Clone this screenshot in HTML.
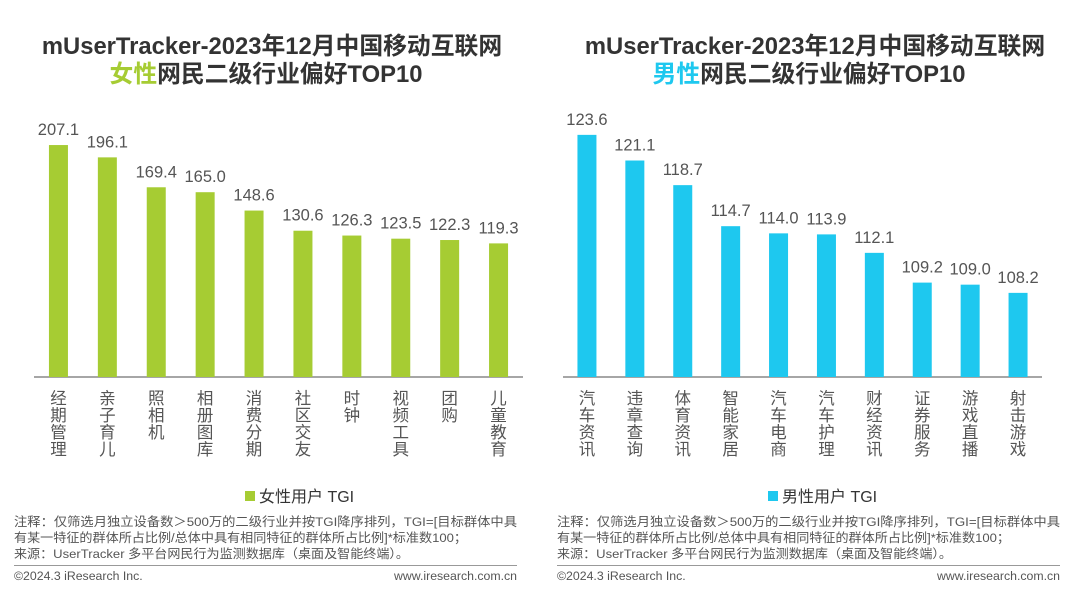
<!DOCTYPE html>
<html><head><meta charset="utf-8"><style>
body{margin:0;width:1080px;height:591px;background:#fff;overflow:hidden;font-family:"Liberation Sans","Noto Sans CJK SC",sans-serif;}
svg text{font-family:"Liberation Sans","Noto Sans CJK SC",sans-serif;}
</style></head><body>
<svg id="chart" width="1080" height="591">
<g>
<text x="272" y="54" text-anchor="middle" font-size="23.8" font-weight="bold" fill="#333">mUserTracker-2023年12月中国移动互联网</text>
<text x="266" y="82" text-anchor="middle" font-size="23.8" font-weight="bold" fill="#333"><tspan fill="#a6cc33">女性</tspan>网民二级行业偏好TOP10</text>
</g>
<g>
<text x="815" y="54" text-anchor="middle" font-size="23.8" font-weight="bold" fill="#333">mUserTracker-2023年12月中国移动互联网</text>
<text x="809" y="82" text-anchor="middle" font-size="23.8" font-weight="bold" fill="#333"><tspan fill="#1ec8ef">男性</tspan>网民二级行业偏好TOP10</text>
</g>
<g id="left"></g>
<g id="right"></g>
<g><rect x="245" y="491" width="10" height="10" fill="#a6cc33"/><text x="259" y="502" font-size="16" fill="#333">女性用户 TGI</text></g>
<g><rect x="768" y="491" width="10" height="10" fill="#1ec8ef"/><text x="782" y="502" font-size="16" fill="#333">男性用户 TGI</text></g>
<g id="notes"></g>
</svg>
<script>
const femaleCats=["经期管理","亲子育儿","照相机","相册图库","消费分期","社区交友","时钟","视频工具","团购","儿童教育"];
const femaleVals=[207.1,196.1,169.4,165.0,148.6,130.6,126.3,123.5,122.3,119.3];
const maleCats=["汽车资讯","违章查询","体育资讯","智能家居","汽车电商","汽车护理","财经资讯","证券服务","游戏直播","射击游戏"];
const maleVals=[123.6,121.1,118.7,114.7,114.0,113.9,112.1,109.2,109.0,108.2];
const NS="http://www.w3.org/2000/svg";
function mk(p,t,a){const e=document.createElementNS(NS,t);for(const k in a)e.setAttribute(k,a[k]);p.appendChild(e);return e;}
function draw(gid,cats,vals,color,x0,x1,vmin,scale){
  const g=document.getElementById(gid);const base=377;const step=(x1-x0)/cats.length;
  const ax=mk(g,'line',{x1:x0,x2:x1,y1:base,y2:base,stroke:'#888','stroke-width':1.5});
  
  
  cats.forEach((c,i)=>{
    const cx=x0+step*(i+0.5);const h=(vals[i]-vmin)*scale;
    const r=mk(g,'rect',{x:cx-9.5,y:base-h,width:19,height:h,fill:color});
    
    
    const t=mk(g,'text',{x:cx,y:base-h-10,'text-anchor':'middle','font-size':16.5,fill:'#555'});t.textContent=vals[i].toFixed(1);
    
    
    [...c].forEach((ch,j)=>{const l=mk(g,'text',{x:cx,y:404+j*17,'text-anchor':'middle','font-size':16.5,fill:'#555'});l.textContent=ch;
      
      });
  });
}
draw('left',femaleCats,femaleVals,'#a6cc33',34,523,0,1.12);
draw('right',maleCats,maleVals,'#1ec8ef',563,1042,100,10.26);
const n=document.getElementById('notes');


[[14,517],[557,1060]].forEach(([x,xe])=>{
  const lines=["注释：仅筛选月独立设备数＞500万的二级行业并按TGI降序排列，TGI=[目标群体中具","有某一特征的群体所占比例/总体中具有相同特征的群体所占比例]*标准数100；","来源：UserTracker 多平台网民行为监测数据库（桌面及智能终端）。"];
  lines.forEach((s,i)=>{const t=mk(n,'text',{x:x,y:526+i*16,'font-size':12.3,fill:'#555',textLength:(i==0?503:(i==1?453:395)),lengthAdjust:'spacingAndGlyphs'});t.textContent=s;});
  mk(n,'line',{x1:x,x2:xe,y1:565.5,y2:565.5,stroke:'#999','stroke-width':1});
  const a=mk(n,'text',{x:x,y:580,'font-size':12.3,fill:'#555'});a.textContent="©2024.3 iResearch Inc.";
  const b=mk(n,'text',{x:xe,y:580,'font-size':12.3,fill:'#555','text-anchor':'end'});b.textContent="www.iresearch.com.cn";
});
</script>
</body></html>
